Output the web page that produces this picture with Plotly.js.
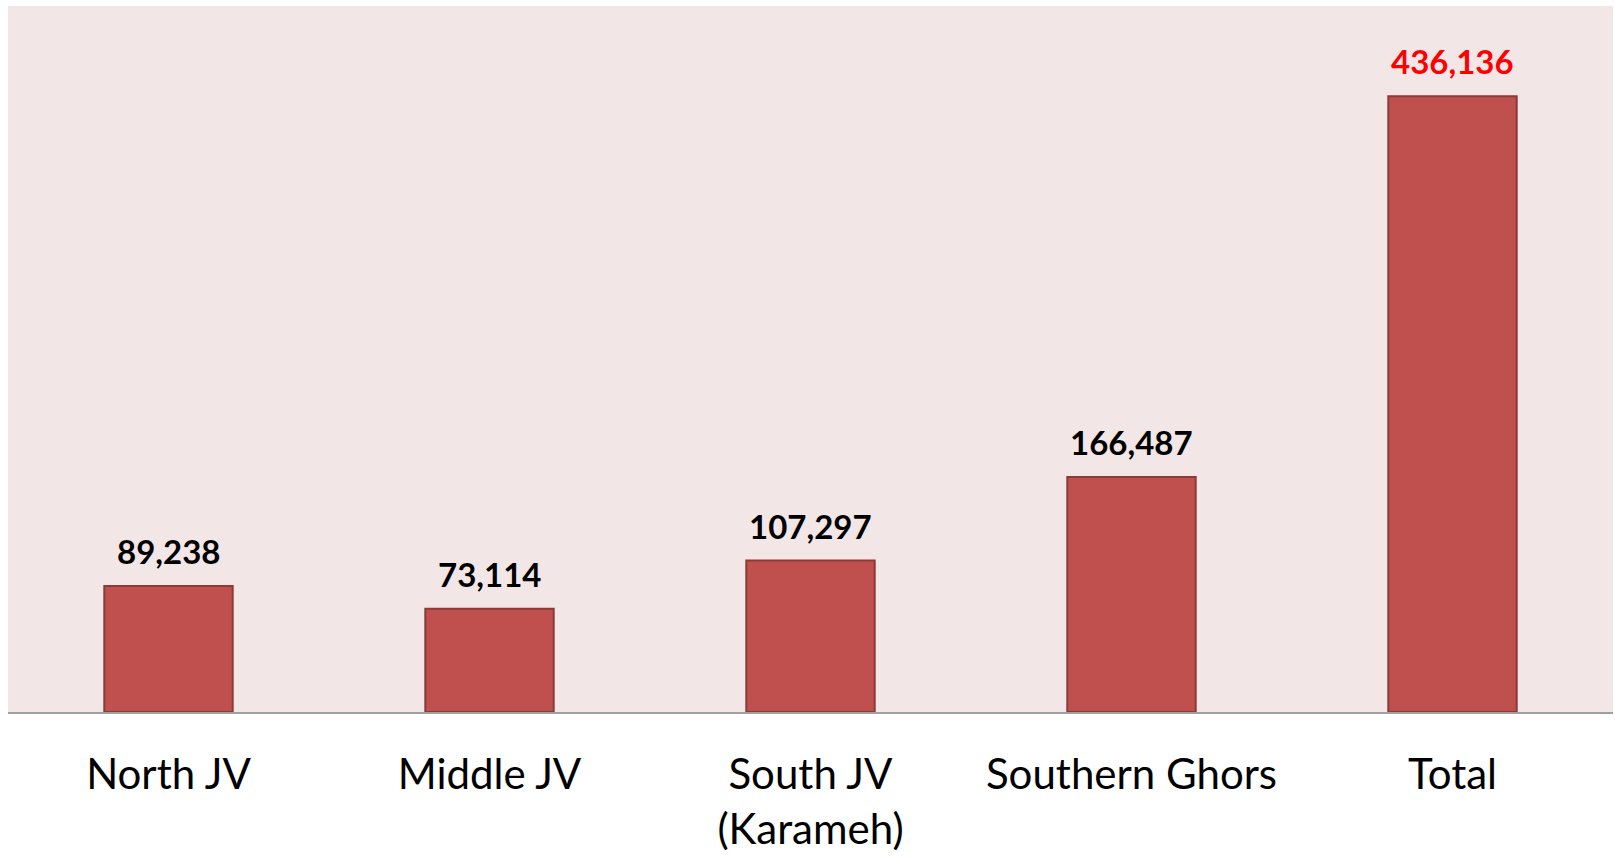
<!DOCTYPE html>
<html>
<head>
<meta charset="utf-8">
<script src="https://cdn.plot.ly/plotly-3.0.1.min.js"></script>
<style>html,body{margin:0;padding:0;background:#fff;}#chart{width:1615px;height:856px;}</style>
</head>
<body>
<div id="chart"></div>
<script>
const categories = ["North JV", "Middle JV", "South JV<br>(Karameh)", "Southern Ghors", "Total"];
const values = [89238, 73114, 107297, 166487, 436136];
const valueLabels = ["89,238", "73,114", "107,297", "166,487", "436,136"];
const labelColors = ["#000000", "#000000", "#000000", "#000000", "#FF0000"];

const trace = {
  type: "bar",
  x: categories,
  y: values,
  marker: {color: "#C0504D", line: {color: "#8C3A38", width: 2}},
  hoverinfo: "skip"
};

const annotations = categories.map((c, i) => ({
  x: c, y: values[i], xref: "x", yref: "y",
  text: "<b>" + valueLabels[i] + "</b>",
  showarrow: false, yanchor: "bottom", yshift: 13,
  font: {family: "Lato, 'Open Sans', sans-serif", size: 33, color: labelColors[i]}
}));

const layout = {
  width: 1615, height: 856,
  margin: {l: 8, r: 2, t: 6, b: 144},
  paper_bgcolor: "#FFFFFF",
  plot_bgcolor: "#F2E7E6",
  bargap: 0.6,
  showlegend: false,
  xaxis: {
    showline: true, linecolor: "#A0A0A0", linewidth: 2,
    ticks: "outside", ticklen: 25, tickcolor: "rgba(0,0,0,0)",
    tickfont: {family: "Lato, 'Open Sans', sans-serif", size: 42, color: "#000000"},
    showgrid: false, zeroline: false, fixedrange: true
  },
  yaxis: {
    range: [0, 500000], visible: false, showgrid: false, zeroline: false, fixedrange: true
  },
  annotations: annotations
};

Plotly.newPlot("chart", [trace], layout, {displayModeBar: false, staticPlot: true});
</script>
</body>
</html>
